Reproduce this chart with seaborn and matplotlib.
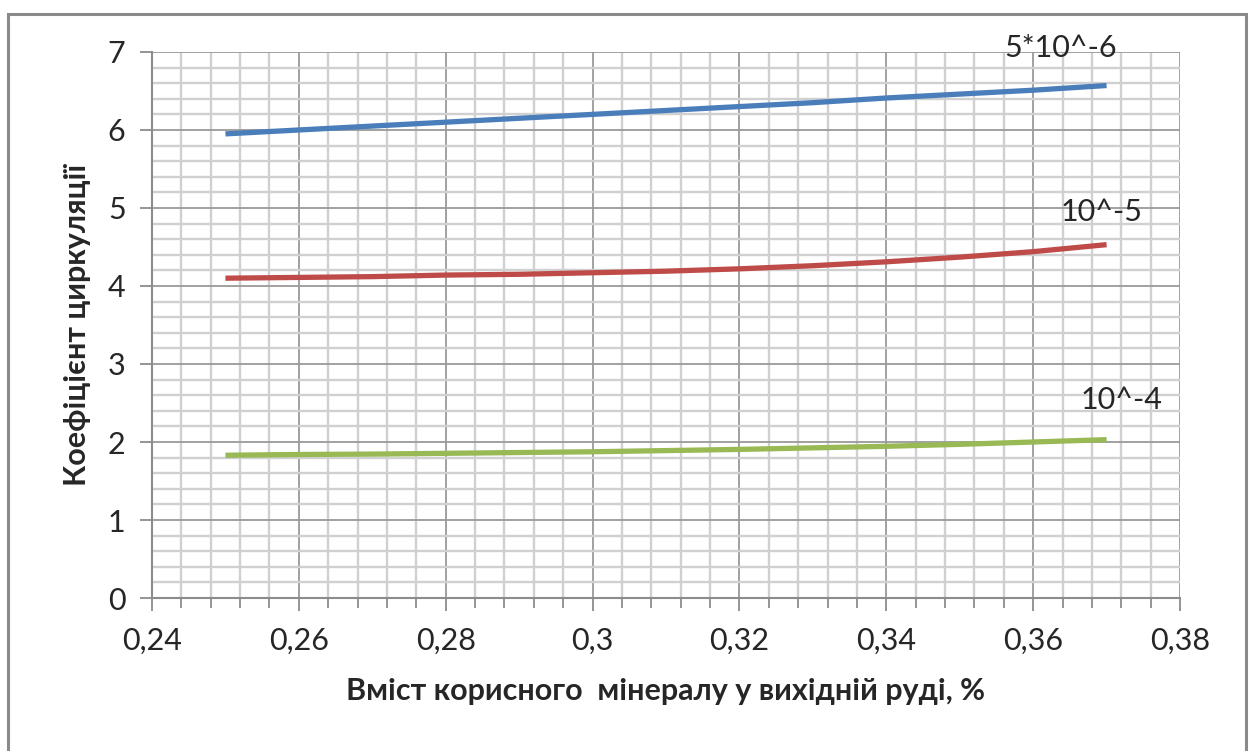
import matplotlib
matplotlib.use("Agg")
import matplotlib.pyplot as plt
from matplotlib.ticker import MultipleLocator, FuncFormatter
from matplotlib.patches import Rectangle
import pandas as pd
import seaborn as sns

# Mineral content in the feed ore, %
x_content = [0.25, 0.26, 0.27, 0.28, 0.29, 0.30, 0.31, 0.32, 0.33, 0.34, 0.35, 0.36, 0.37]
# Circulation coefficient for each parameter value
k_5e6 = [5.95, 6.00, 6.05, 6.10, 6.15, 6.20, 6.25, 6.30, 6.35, 6.41, 6.46, 6.51, 6.57]
k_1e5 = [4.10, 4.11, 4.12, 4.14, 4.15, 4.17, 4.19, 4.22, 4.26, 4.31, 4.37, 4.44, 4.53]
k_1e4 = [1.83, 1.84, 1.845, 1.855, 1.865, 1.875, 1.89, 1.905, 1.925, 1.945, 1.97, 2.00, 2.03]
series_names = ["5*10^-6", "10^-5", "10^-4"]
series_colors = ["#4a7ebb", "#be4b48", "#98b954"]

frames = []
for name, vals in zip(series_names, [k_5e6, k_1e5, k_1e4]):
    frames.append(pd.DataFrame({"x": x_content, "k": vals, "series": name}))
df = pd.concat(frames, ignore_index=True)

sns.set_style("white")
plt.rcParams["font.family"] = ["Lato", "DejaVu Sans"]

fig = plt.figure(figsize=(12.5, 7.51), dpi=100)
ax = fig.add_axes([0.1216, 0.2037, 0.8224, 0.7271])

sns.lineplot(data=df, x="x", y="k", hue="series", palette=series_colors,
             hue_order=series_names, linewidth=3.8, legend=False, ax=ax,
             solid_capstyle="butt", zorder=3)

ax.set_xlim(0.24, 0.38)
ax.set_ylim(0, 7)
ax.xaxis.set_major_locator(MultipleLocator(0.02))
ax.xaxis.set_minor_locator(MultipleLocator(0.004))
ax.yaxis.set_major_locator(MultipleLocator(1))
ax.yaxis.set_minor_locator(MultipleLocator(0.2))

def comma_fmt(v, pos):
    s = f"{v:.2f}".rstrip("0").rstrip(".")
    return s.replace(".", ",")

ax.xaxis.set_major_formatter(FuncFormatter(comma_fmt))

ax.grid(which="major", color="#9a9a9a", linewidth=1.3, zorder=1)
ax.grid(which="minor", color="#d0d0d0", linewidth=1.7, zorder=0)
ax.set_axisbelow(True)

for side in ["top", "right"]:
    ax.spines[side].set_visible(False)
for side in ["left", "bottom"]:
    ax.spines[side].set_color("#8c8c8c")
    ax.spines[side].set_linewidth(1.5)

ax.tick_params(axis="x", which="both", direction="out", length=9, width=1.3,
               color="#8c8c8c", labelsize=22, pad=12, bottom=True)
ax.tick_params(axis="x", which="minor", length=7)
ax.tick_params(axis="y", which="major", direction="out", length=9, width=1.3,
               color="#8c8c8c", labelsize=22, pad=10, left=True)
ax.tick_params(axis="y", which="minor", length=0)
for lab in ax.get_xticklabels() + ax.get_yticklabels():
    lab.set_color("#262626")

ax.set_xlabel("Вміст корисного  мінералу у вихідній руді, %", fontsize=22,
              fontweight="bold", labelpad=16)
ax.set_ylabel("Коефіцієнт циркуляції", fontsize=22, fontweight="bold", labelpad=12)

# Curve labels at the right-hand ends
label_pos = [(0.3638, 7.05), (0.3693, 4.95), (0.3720, 2.54)]
for name, (lx, ly) in zip(series_names, label_pos):
    ax.text(lx, ly, name, fontsize=22, color="#262626", ha="center", va="center")

# Chart-area border
fig.patches.append(Rectangle((8 / 1250, -0.01), 1238 / 1250, 1 - 14 / 751 + 0.01,
                             transform=fig.transFigure, fill=False,
                             edgecolor="#8a8a8a", linewidth=2.2))

fig.savefig("out.png", dpi=100, facecolor="white")
